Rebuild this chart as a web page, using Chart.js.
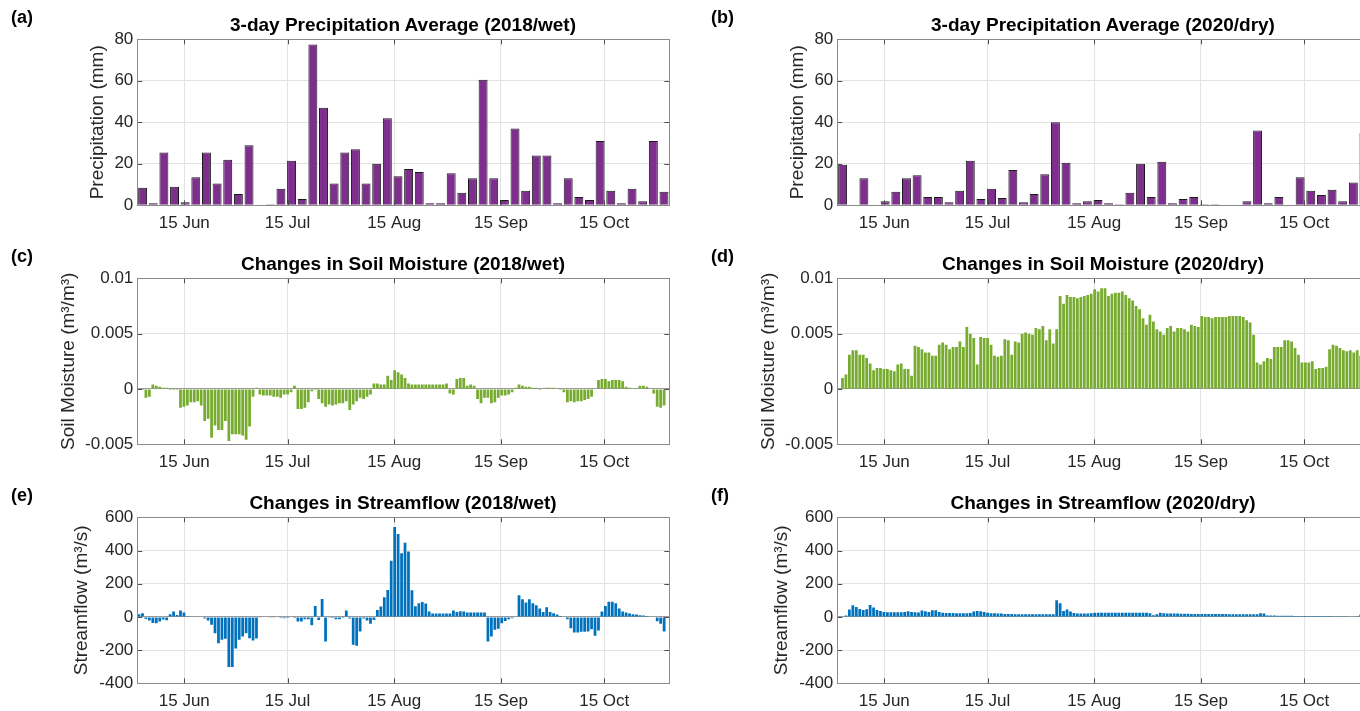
<!DOCTYPE html>
<html>
<head>
<meta charset="utf-8">
<title>Precipitation, soil moisture and streamflow 2018 / 2020</title>
<script src="https://cdn.jsdelivr.net/npm/chart.js@4.4.0/dist/chart.umd.min.js"></script>
<style>
    html, body {
        margin: 0;
        padding: 0;
        background: #fff;
        width: 1360px;
        height: 711px;
        overflow: hidden;
        position: relative;
        font-family: "Liberation Sans", Arial, sans-serif;
    }
    .panel {
        position: absolute;
        width: 700px;
        height: 239px;
    }
    .panel canvas {
        display: block;
    }
    .tag {
        position: absolute;
        font-weight: bold;
        font-size: 18px;
        line-height: 18px;
        color: #000;
    }
    .ttl {
        position: absolute;
        font-weight: bold;
        font-size: 19px;
        line-height: 19px;
        color: #000;
        white-space: nowrap;
        transform: translateX(-50%);
    }
</style>
</head>
<body>
<script>
// x axis: days counted from 1 June (1 Jun = 0)
const xMinDay = 0.35;
const xMaxDay = 154.9;
const tickDays = [14, 44, 75, 106, 136];
const tickLabels = ['15 Jun', '15 Jul', '15 Aug', '15 Sep', '15 Oct'];

// y ticks
const precipTicks = [0, 20, 40, 60, 80];
const smTicks = [-0.005, 0, 0.005, 0.01];
const sfTicks = [-400, -200, 0, 200, 400, 600];

// 3-day precipitation average (mm), 50 bars each
const precip2018 = [8.5, 1, 25.5, 9, 1.5, 13.5, 25.5, 10.5, 22, 5.5,
    29, 0, 0.5, 8, 21.5, 3, 77.5, 47, 10.5, 25.5,
    27, 10.5, 20, 42, 14, 17.5, 16, 1, 1, 15.5,
    6, 13, 60.5, 13, 2.5, 37, 7, 24, 24, 1,
    13, 4, 2.5, 31, 7, 1, 8, 2, 31, 6.5];
const precip2020 = [19.5, 0, 13, 0, 2, 6.5, 13, 14.5, 4, 4,
    1.5, 7, 21.5, 3, 8, 3.5, 17, 1.5, 5.5, 15,
    40, 20.5, 1, 2, 2.5, 1, 0.5, 6, 20, 4,
    21, 1, 3, 4, 0.5, 0.5, 0, 0, 2, 36,
    1, 4, 0, 13.5, 7, 5, 7.5, 2, 11, 35];

// daily change in soil moisture (m3/m3)
const sm2018 = [-0.0001, -0.0001, -0.0008, -0.0007, 0.0004, 0.0003, 0.0002, 0.0001, 0.0001, -0.0001,
    -0.0001, -0.0001, -0.0017, -0.0016, -0.0015, -0.0012, -0.0012, -0.0011, -0.0015, -0.0029,
    -0.0027, -0.0044, -0.0033, -0.0037, -0.0037, -0.0029, -0.0047, -0.0041, -0.0041, -0.0041,
    -0.0042, -0.0046, -0.0034, -0.0007, 0.0001, -0.0005, -0.0006, -0.0006, -0.0006, -0.0007,
    -0.0007, -0.0008, -0.0005, -0.0005, -0.0003, 0.0003, -0.0018, -0.0018, -0.0017, -0.0012,
    -0.0002, -0.0001, -0.0009, -0.0013, -0.0016, -0.0014, -0.0015, -0.0014, -0.0013, -0.0013,
    -0.0011, -0.0019, -0.0014, -0.0011, -0.0008, -0.0009, -0.0007, -0.0005, 0.0005, 0.0005,
    0.0004, 0.0004, 0.0012, 0.0008, 0.0017, 0.0015, 0.0013, 0.0010, 0.0005, 0.0004,
    0.0004, 0.0004, 0.0004, 0.0004, 0.0004, 0.0004, 0.0004, 0.0004, 0.0004, 0.0005,
    -0.0004, -0.0005, 0.0009, 0.0010, 0.0010, 0.0003, 0.0004, 0.0003, -0.0009, -0.0013,
    -0.0008, -0.0008, -0.0013, -0.0012, -0.0008, -0.0006, -0.0006, -0.0005, -0.0003, 0.0001,
    0.0004, 0.0003, 0.0002, 0.0002, 0.0001, 0.0001, -0.0001, 0, 0.0001, 0.0001,
    0.0001, 0, -0.0001, -0.0003, -0.0012, -0.0011, -0.0012, -0.0011, -0.0011, -0.0010,
    -0.0009, -0.0007, 0, 0.0008, 0.0009, 0.0009, 0.0007, 0.0008, 0.0008, 0.0008,
    0.0007, 0.0002, 0.0001, 0, 0, 0.0003, 0.0003, 0.0002, 0, -0.0004,
    -0.0016, -0.0017, -0.0015, 0];
const sm2020 = [0, 0.0010, 0.0013, 0.0031, 0.0035, 0.0035, 0.0031, 0.0031, 0.0028, 0.0023,
    0.0017, 0.0019, 0.0019, 0.0018, 0.0018, 0.0017, 0.0016, 0.0022, 0.0023, 0.0018,
    0.0018, 0.0012, 0.0039, 0.0038, 0.0036, 0.0033, 0.0033, 0.0030, 0.0030, 0.0040,
    0.0042, 0.0040, 0.0036, 0.0038, 0.0038, 0.0043, 0.0038, 0.0056, 0.0050, 0.0046,
    0.0022, 0.0047, 0.0046, 0.0046, 0.0040, 0.0030, 0.0029, 0.0030, 0.0045, 0.0044,
    0.0031, 0.0043, 0.0042, 0.0050, 0.0051, 0.0050, 0.0049, 0.0055, 0.0054, 0.0057,
    0.0044, 0.0054, 0.0041, 0.0054, 0.0084, 0.0077, 0.0085, 0.0083, 0.0083, 0.0082,
    0.0083, 0.0084, 0.0085, 0.0086, 0.0090, 0.0088, 0.0091, 0.0091, 0.0084, 0.0086,
    0.0087, 0.0087, 0.0088, 0.0085, 0.0082, 0.0080, 0.0075, 0.0072, 0.0064, 0.0058,
    0.0067, 0.0061, 0.0054, 0.0052, 0.0049, 0.0055, 0.0057, 0.0052, 0.0055, 0.0055,
    0.0054, 0.0052, 0.0058, 0.0057, 0.0056, 0.0066, 0.0065, 0.0065, 0.0064, 0.0065,
    0.0065, 0.0065, 0.0065, 0.0066, 0.0066, 0.0066, 0.0066, 0.0065, 0.0062, 0.0060,
    0.0049, 0.0024, 0.0022, 0.0025, 0.0028, 0.0027, 0.0038, 0.0038, 0.0038, 0.0044,
    0.0044, 0.0043, 0.0037, 0.0031, 0.0024, 0.0024, 0.0024, 0.0025, 0.0018, 0.0019,
    0.0019, 0.0020, 0.0036, 0.0040, 0.0039, 0.0037, 0.0035, 0.0034, 0.0035, 0.0033,
    0.0035, 0.0030, 0.0031, 0.0030];

// daily change in streamflow (m3/s)
const sf2018 = [16, 22, -12, -22, -36, -38, -28, -16, -20, 16,
    32, 12, 38, 26, 4, 2, 2, 2, 2, -10,
    -22, -48, -98, -158, -138, -132, -302, -302, -190, -138,
    -118, -98, -128, -142, -130, -2, 2, 0, -2, -2,
    -4, -6, -8, -6, -4, -6, -28, -28, -14, -14,
    -50, 66, -18, 108, -148, -2, -6, -14, -14, -6,
    38, -10, -168, -174, -88, -10, -22, -42, -18, 42,
    62, 118, 162, 338, 542, 500, 384, 446, 394, 160,
    64, 82, 90, 80, 32, 20, 20, 20, 20, 20,
    20, 38, 30, 34, 32, 26, 26, 26, 26, 26,
    26, -148, -118, -78, -72, -38, -24, -14, -8, 0,
    130, 106, 86, 106, 82, 70, 50, 30, 58, 30,
    22, 14, 6, 2, -14, -68, -94, -94, -90, -90,
    -88, -74, -114, -82, 32, 66, 92, 92, 82, 50,
    32, 26, 20, 16, 14, 10, 8, 6, 2, 0,
    -26, -42, -88, 0];
const sf2020 = [0, 0, 8, 45, 70, 60, 48, 42, 46, 72,
    56, 42, 35, 30, 28, 28, 28, 28, 28, 30,
    34, 30, 28, 26, 38, 34, 30, 40, 40, 30,
    25, 24, 24, 24, 22, 22, 22, 22, 24, 32,
    35, 34, 30, 25, 22, 22, 20, 20, 18, 18,
    18, 16, 16, 16, 16, 16, 16, 16, 16, 16,
    16, 16, 16, 100, 82, 35, 45, 32, 24, 20,
    20, 20, 20, 22, 25, 25, 25, 25, 25, 25,
    25, 25, 25, 25, 25, 25, 25, 25, 25, 25,
    22, 10, 16, 25, 22, 21, 20, 20, 20, 19,
    19, 19, 18, 18, 18, 18, 17, 17, 17, 17,
    17, 17, 17, 16, 16, 16, 16, 16, 16, 16,
    16, 16, 22, 20, 8, 8, 8, 7, 7, 7,
    7, 7, 6, 6, 6, 6, 6, 5, 5, 5,
    5, 5, 5, 4, 4, 4, 4, 4, 3, 3,
    4, 15, 15, 12];

const PURPLE = '#7E2F8E';
const GREEN = '#77AC30';
const BLUE = '#0072BD';

const panels = [
    { tag: '(a)', left: 0, top: 0, title: '3-day Precipitation Average (2018/wet)', yTitle: 'Precipitation (mm)', values: precip2018, yTicks: precipTicks, color: PURPLE, edge: true, titlePad: 86 },
    { tag: '(b)', left: 700, top: 0, title: '3-day Precipitation Average (2020/dry)', yTitle: 'Precipitation (mm)', values: precip2020, yTicks: precipTicks, color: PURPLE, edge: true, titlePad: 86 },
    { tag: '(c)', left: 0, top: 239, title: 'Changes in Soil Moisture (2018/wet)', yTitle: 'Soil Moisture (m\u00B3/m\u00B3)', values: sm2018, yTicks: smTicks, color: GREEN, edge: false, titlePad: 57 },
    { tag: '(d)', left: 700, top: 239, title: 'Changes in Soil Moisture (2020/dry)', yTitle: 'Soil Moisture (m\u00B3/m\u00B3)', values: sm2020, yTicks: smTicks, color: GREEN, edge: false, titlePad: 57 },
    { tag: '(e)', left: 0, top: 478, title: 'Changes in Streamflow (2018/wet)', yTitle: 'Streamflow (m\u00B3/s)', values: sf2018, yTicks: sfTicks, color: BLUE, edge: false, titlePad: 70 },
    { tag: '(f)', left: 700, top: 478, title: 'Changes in Streamflow (2020/dry)', yTitle: 'Streamflow (m\u00B3/s)', values: sf2020, yTicks: sfTicks, color: BLUE, edge: false, titlePad: 70 }
];

Chart.defaults.font.family = '"Liberation Sans", Arial, sans-serif';
Chart.defaults.color = '#262626';

// box around the plot area plus inward tick marks on all four sides
const frameTicks = {
    id: 'frameTicks',
    afterDraw(chart) {
        const { ctx, chartArea: a } = chart;
        const xs = chart.scales.xd;
        const ys = chart.scales.y;
        ctx.save();
        ctx.strokeStyle = '#4d4d4d';
        ctx.lineWidth = 1;
        ctx.beginPath();
        xs.ticks.forEach(t => {
            const px = Math.round(xs.getPixelForValue(t.value)) + 0.5;
            ctx.moveTo(px, a.bottom); ctx.lineTo(px, a.bottom - 5);
            ctx.moveTo(px, a.top); ctx.lineTo(px, a.top + 5);
        });
        ys.ticks.forEach(t => {
            const py = Math.round(ys.getPixelForValue(t.value)) + 0.5;
            ctx.moveTo(a.left, py); ctx.lineTo(a.left + 5, py);
            ctx.moveTo(a.right, py); ctx.lineTo(a.right - 5, py);
        });
        ctx.stroke();
        ctx.strokeStyle = '#8a8a8a';
        ctx.strokeRect(Math.round(a.left) + 0.5, Math.round(a.top) + 0.5,
            Math.round(a.right) - Math.round(a.left), Math.round(a.bottom) - Math.round(a.top));
        ctx.restore();
    }
};

panels.forEach(p => {
    const wrap = document.createElement('div');
    wrap.className = 'panel';
    wrap.style.left = p.left + 'px';
    wrap.style.top = p.top + 'px';
    const canvas = document.createElement('canvas');
    canvas.width = 700;
    canvas.height = 239;
    wrap.appendChild(canvas);
    document.body.appendChild(wrap);

    const tag = document.createElement('div');
    tag.className = 'tag';
    tag.textContent = p.tag;
    tag.style.left = (p.left + 11) + 'px';
    tag.style.top = (p.top + 8) + 'px';
    document.body.appendChild(tag);

    const ttl = document.createElement('div');
    ttl.className = 'ttl';
    ttl.textContent = p.title;
    ttl.style.left = (p.left + 403) + 'px';
    ttl.style.top = (p.top + 14.7) + 'px';
    document.body.appendChild(ttl);

    const yMin = p.yTicks[0];
    const yMax = p.yTicks[p.yTicks.length - 1];

    new Chart(canvas, {
        type: 'bar',
        data: {
            labels: p.values.map((v, i) => i),
            datasets: [{
                data: p.values,
                xAxisID: 'x',
                yAxisID: 'y',
                backgroundColor: p.color,
                borderColor: p.edge ? '#1a1a1a' : p.color,
                borderWidth: p.edge ? 1 : 0,
                barPercentage: p.edge ? 0.84 : 0.8,
                categoryPercentage: 1
            }]
        },
        options: {
            responsive: false,
            animation: false,
            events: [],
            layout: { padding: { top: 39.3, right: 30.7, left: 0, bottom: 0 } },
            plugins: {
                legend: { display: false },
                tooltip: { enabled: false }
            },
            scales: {
                x: {
                    type: 'category',
                    display: false
                },
                xd: {
                    type: 'linear',
                    axis: 'x',
                    position: 'bottom',
                    offset: false,
                    min: xMinDay,
                    max: xMaxDay,
                    afterBuildTicks: scale => { scale.ticks = tickDays.map(v => ({ value: v })); },
                    afterFit: scale => { scale.height = 33.7; },
                    grid: { color: '#e3e3e3', drawTicks: false, offset: false },
                    border: { display: false },
                    ticks: {
                        autoSkip: false,
                        maxRotation: 0,
                        padding: 8,
                        font: { size: 17 },
                        color: '#262626',
                        callback: (value, index) => tickLabels[index]
                    }
                },
                y: {
                    type: 'linear',
                    position: 'left',
                    min: yMin,
                    max: yMax,
                    afterBuildTicks: scale => { scale.ticks = p.yTicks.map(v => ({ value: v })); },
                    afterFit: scale => { scale.width = 137.3; },
                    grid: {
                        drawTicks: false,
                        color: c => (c.tick && c.tick.value === 0 && yMin < 0) ? '#9a9a9a' : '#e3e3e3'
                    },
                    border: { display: false },
                    ticks: {
                        autoSkip: false,
                        padding: 4,
                        font: { size: 17 },
                        color: '#262626',
                        callback: value => String(value)
                    },
                    title: {
                        display: true,
                        text: p.yTitle,
                        color: '#262626',
                        font: { size: 19 },
                        padding: { top: p.titlePad, bottom: 0 }
                    }
                }
            }
        },
        plugins: [frameTicks]
    });
});
</script>
</body>
</html>
